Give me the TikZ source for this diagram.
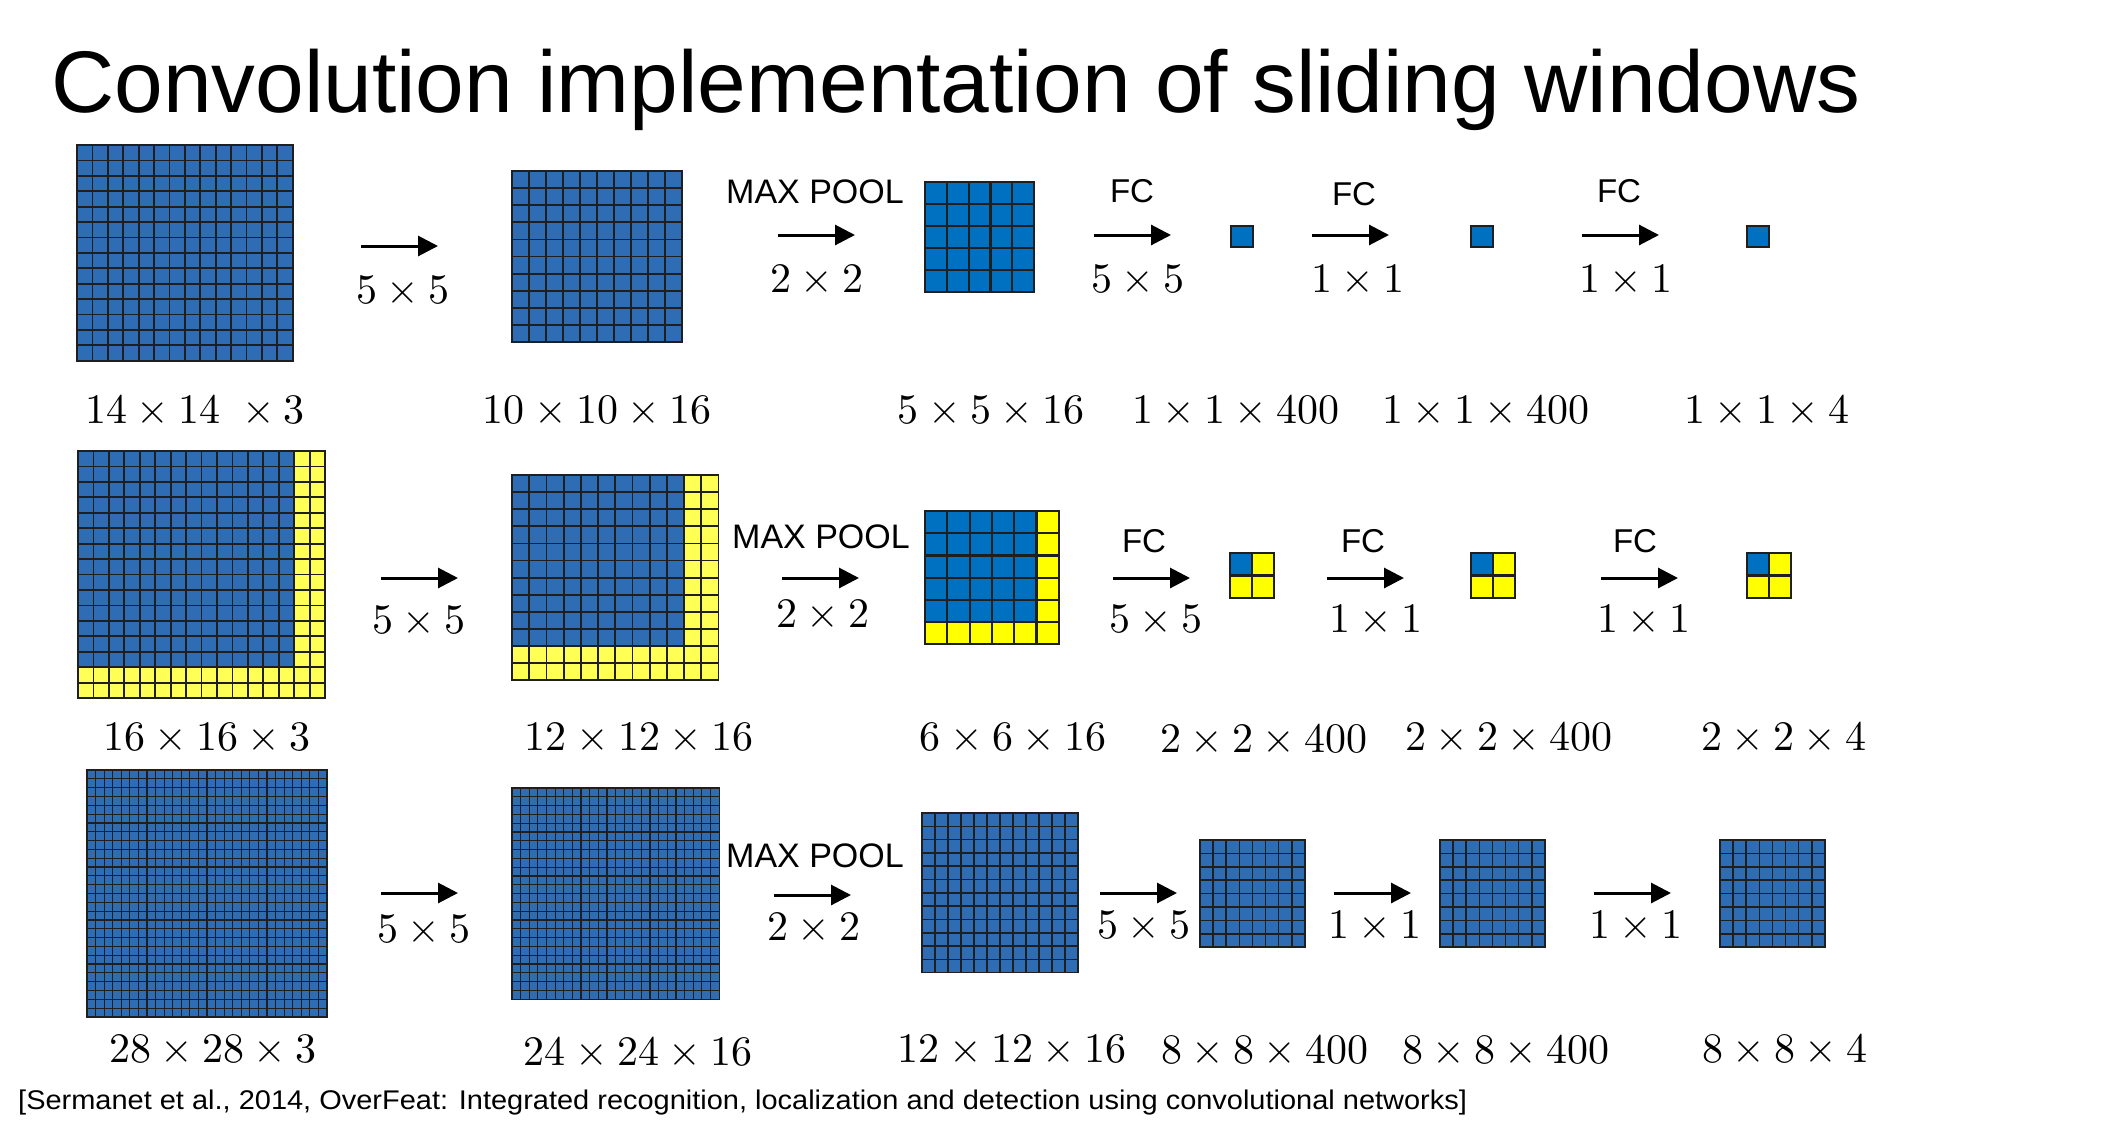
\documentclass[tikz,border=0pt]{standalone}
\usepackage[no-math]{fontspec}
\newfontfamily\arial{Liberation Sans}
\newfontfamily\dimfont{lmroman10-regular.otf}
\newcommand\dimx{\hspace{.22em}×\hspace{.22em}}
\usetikzlibrary{arrows.meta}
\definecolor{mapblue}{HTML}{2E6DB4}
\definecolor{fcblue}{HTML}{0070C0}
\definecolor{padyellow}{HTML}{FFFF55}
\definecolor{fcyellow}{HTML}{FFFF00}
\begin{document}
\begin{tikzpicture}[x=1pt,y=-1pt,
    cell/.style = {rectangle,draw=black!88,inner sep=0pt,outer sep=0pt,anchor=north west},
    conv/.style = {line width=3pt,-{Triangle[length=20pt,width=20pt]}},
    dims/.style = {anchor=base,inner sep=0pt,font=\dimfont\fontsize{42}{50}\selectfont},
    layer/.style = {anchor=base,inner sep=0pt,font=\arial\fontsize{34}{40}\selectfont}]
\path[use as bounding box,fill=white] (0,0) rectangle (2115,1135);
\node[anchor=base west,inner sep=0pt,font=\arial\fontsize{87.5}{100}\selectfont] (title) at (51,112) {Convolution implementation of sliding windows};
% feature maps: x/y/cells/w/h/blue cells/colours/line/name
\foreach \gx/\gy/\n/\w/\h/\nb/\bc/\yc/\lw/\nm in {
     77/145/14/15.4/15.4/14/mapblue/padyellow/1.8/pa,
    512/171/10/17.0/17.1/10/mapblue/padyellow/1.8/pb,
    925/182/5/21.8/22.0/5/fcblue/fcyellow/2.2/pc,
   1231/226/1/22.0/21.0/1/fcblue/fcyellow/2.2/pd,
   1471/226/1/22.0/21.0/1/fcblue/fcyellow/2.2/pe,
   1747/226/1/22.0/21.0/1/fcblue/fcyellow/2.2/pf,
     78/451/16/15.44/15.44/14/mapblue/padyellow/1.8/qa,
    512/475/12/17.2/17.1/10/mapblue/padyellow/1.8/qb,
    925/511/6/22.3/22.2/5/fcblue/fcyellow/2.2/qc,
   1230/553/2/22.0/22.5/1/fcblue/fcyellow/2.2/qd,
   1471/553/2/22.0/22.5/1/fcblue/fcyellow/2.2/qe,
   1747/553/2/22.0/22.5/1/fcblue/fcyellow/2.2/qf,
     87/770/28/8.57/8.82/28/mapblue/padyellow/1.2/ra,
    512/788/24/8.63/8.8/24/mapblue/padyellow/1.2/rb,
    922/813/12/13.0/13.3/12/mapblue/padyellow/1.6/rc,
   1200/840/8/13.1/13.4/8/mapblue/padyellow/1.6/rd,
   1440/840/8/13.1/13.4/8/mapblue/padyellow/1.6/re,
   1720/840/8/13.1/13.4/8/mapblue/padyellow/1.6/rf}
  \foreach \i in {1,...,\n}
    \foreach \j in {1,...,\n} {
      \pgfmathtruncatemacro\pad{or(\i>\nb,\j>\nb)}
      \ifnum\pad=1 \colorlet{cellfill}{\yc}\else\colorlet{cellfill}{\bc}\fi
      \node[cell,line width=\lw,minimum width=\w,minimum height=\h,fill=cellfill] (\nm-\i-\j) at ({\gx+(\i-1)*\w},{\gy+(\j-1)*\h}) {};
    }
% arrows
\foreach \ax/\ay/\k in {361/246/pa, 778/235/pb, 1094/235/pc, 1312/235/pd, 1582/235/pe,
                        381/578/qa, 782/578/qb, 1113/578/qc, 1327/578/qd, 1601/578/qe,
                        381/893/ra, 774/895/rb, 1100/893/rc, 1334/893/rd, 1594/893/re} {
  \coordinate (\k-s) at (\ax,\ay);
  \coordinate (\k-e) at ({\ax+77},\ay);
  \draw[conv] (\k-s) -- (\k-e);
}
% kernel sizes
\foreach \lx/\ly/\a/\b [count=\c] in {403/303/5/5, 817/292/2/2, 1138/292/5/5, 1358/292/1/1, 1626/292/1/1,
                                      419/633/5/5, 823/627/2/2, 1156/632/5/5, 1376/632/1/1, 1644/632/1/1,
                                      424/942/5/5, 814/940/2/2, 1144/938/5/5, 1375/938/1/1, 1636/938/1/1}
  \node[dims] (k\c) at (\lx,\ly) {\a\dimx\b};
% volume sizes
\foreach \lx/\ly/\a/\b [count=\c] in {597/423/10/16, 991/423/5/16,
                                      1236/423/1/400, 1486/423/1/400, 1767/423/1/4,
                                      207/750/16/3, 639/750/12/16, 1013/750/6/16,
                                      1264/752/2/400, 1509/750/2/400, 1784/750/2/4,
                                      213/1062/28/3, 638/1065/24/16, 1012/1062/12/16,
                                      1265/1063/8/400, 1506/1063/8/400, 1785/1062/8/4}
  \node[dims] (v\c) at (\lx,\ly) {\a\dimx\a\dimx\b};
\node[dims] (v0) at (195,423) {14\dimx14\hspace{.3em}\dimx3};
% layer names
\node[layer] (mp1) at (815,203) {MAX POOL};
\node[layer] (mp2) at (821,548) {MAX POOL};
\node[layer] (mp3) at (815,867) {MAX POOL};
\foreach \lx/\ly [count=\c] in {1132/202, 1354/205, 1619/202, 1144/552, 1363/552, 1635/552}
  \node[layer,font=\arial\fontsize{33}{40}\selectfont] (fc\c) at (\lx,\ly) {FC};
\node[anchor=base west,inner sep=0pt,font=\arial\fontsize{27}{30}\selectfont] (cite) at (18,1109) {\scalebox{1.073}[1]{[Sermanet et al., 2014, OverFeat: Integrated recognition, localization and detection using convolutional networks]}};
\end{tikzpicture}
\end{document}
